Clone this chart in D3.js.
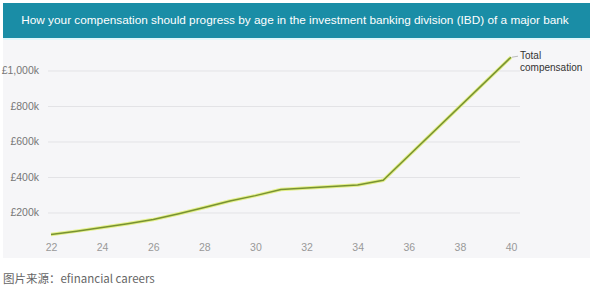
<!DOCTYPE html>
<html lang="en">
<head>
<meta charset="UTF-8">
<title>IBD compensation by age</title>
<script src="https://d3js.org/d3.v7.min.js"></script>
<style>
  body { margin: 0; background: #fff; }
  svg { display: block; font-family: "Liberation Sans", Arial, sans-serif; }
</style>
</head>
<body>
<div id="chart"></div>
<script>
// data (age -> total compensation in £k)
const ages = [22, 23, 24, 25, 26, 27, 28, 29, 30, 31, 32, 33, 34, 35, 40];
const comp = [76, 95, 115, 137, 160, 193, 228, 265, 295, 330, 338, 347, 355, 382, 1075];
const xTicks = [22, 24, 26, 28, 30, 32, 34, 36, 38, 40];
const yTicks = [200, 400, 600, 800, 1000];
const title = "How your compensation should progress by age in the investment banking division (IBD) of a major bank";
const seriesName = ["Total", "compensation"];
const source = "图片来源：efinancial careers";

const W = 595, H = 289;
const svg = d3.select("#chart").append("svg").attr("width", W).attr("height", H);

// panels
svg.append("rect").attr("x", 3).attr("y", 38).attr("width", 587).attr("height", 220).attr("fill", "#f6f6f8");
svg.append("rect").attr("x", 3).attr("y", 37).attr("width", 587).attr("height", 3).attr("fill", "#dff6fb");
svg.append("rect").attr("x", 3).attr("y", 3).attr("width", 587).attr("height", 35).attr("fill", "#1a8da6");
svg.append("text").attr("x", 295).attr("y", 24).attr("text-anchor", "middle")
   .attr("fill", "#fff").attr("font-size", 11.8).text(title);

const x = d3.scaleLinear().domain([22, 40]).range([51, 511]);
const y = d3.scaleLinear().domain([0, 1000]).range([248, 70.5]);

// gridlines + y labels
const yAxis = svg.append("g").attr("transform", "translate(48,0)")
  .call(d3.axisLeft(y).tickValues(yTicks).tickSize(-472).tickPadding(9)
        .tickFormat(d => "£" + d3.format(",")(d) + "k"));
yAxis.select(".domain").remove();
yAxis.selectAll("line").attr("stroke", "#e3e3e6");
yAxis.selectAll("text").attr("fill", "#777").attr("font-size", 10.5);

// x labels
const xAxis = svg.append("g").attr("transform", "translate(0,236)")
  .call(d3.axisBottom(x).tickValues(xTicks).tickSize(0).tickPadding(8));
xAxis.select(".domain").remove();
xAxis.selectAll("text").attr("fill", "#999").attr("font-size", 10.5);

// line
const data = ages.map((a, i) => ({ age: a, v: comp[i] }));
const line = d3.line().x(d => x(d.age)).y(d => y(d.v));
svg.append("path").datum(data).attr("d", line).attr("fill", "none")
   .attr("stroke", "#e4f08a").attr("stroke-width", 3.5).attr("stroke-linejoin", "round");
svg.append("path").datum(data).attr("d", line).attr("fill", "none")
   .attr("stroke", "#789232").attr("stroke-width", 1.5).attr("stroke-linejoin", "round");

// series label
const last = data[data.length - 1];
svg.append("line").attr("x1", x(last.age) + 1).attr("y1", y(last.v))
   .attr("x2", x(last.age) + 7).attr("y2", y(last.v) - 1).attr("stroke", "#bbb");
svg.append("text").attr("x", x(last.age) + 9).attr("y", y(last.v) + 2)
   .attr("fill", "#333").attr("font-size", 10)
   .selectAll("tspan").data(seriesName).join("tspan")
   .attr("x", x(last.age) + 9).attr("dy", (d, i) => i ? 11.5 : 0).text(d => d);

// source
svg.append("text").attr("x", 3).attr("y", 283).attr("fill", "#666").attr("font-size", 11.5)
   .attr("font-family", "'Noto Sans CJK SC', sans-serif").text(source);
</script>
</body>
</html>
